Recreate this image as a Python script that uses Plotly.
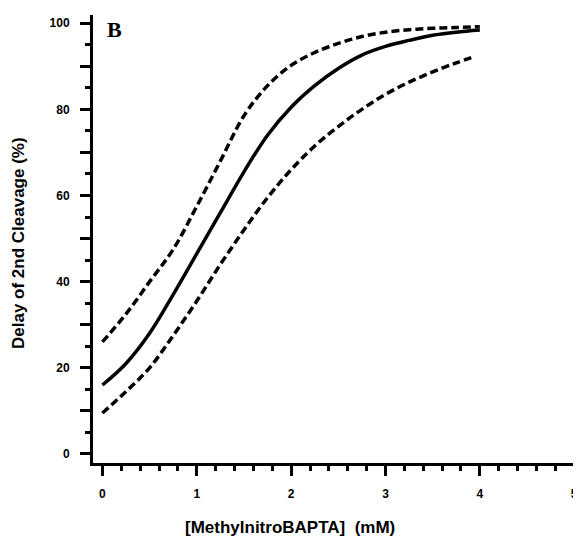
import plotly.graph_objects as go

# Concentration (mM) and delay (%)
conc = [0, 0.25, 0.5, 0.75, 1.0, 1.25, 1.5, 1.75, 2.0, 2.25, 2.5, 2.75, 3.0, 3.25, 3.5, 3.75, 4.0]
fit = [16, 21, 28, 37, 46.5, 56, 65.5, 74, 80.5, 85.5, 89.5, 92.6, 94.6, 96, 97.2, 97.9, 98.4]
upper = [26, 32.5, 40, 47.5, 57.5, 68, 78.5, 85.5, 90.2, 93.2, 95.3, 96.9, 97.9, 98.5, 98.8, 99, 99.2]
conc_low = [0, 0.25, 0.5, 0.75, 1.0, 1.25, 1.5, 1.75, 2.0, 2.25, 2.5, 2.75, 3.0, 3.25, 3.5, 3.75, 3.95]
lower = [9.5, 14.5, 20, 27.5, 35.5, 44, 52, 59.5, 66, 71.5, 76, 80, 83.5, 86.3, 88.7, 90.8, 92.3]

x_ticks = [0, 1, 2, 3, 4, 5]
x_ticktext = ["0", "1", "2", "3", "4", "5"]
y_ticks = [0, 10, 20, 30, 40, 50, 60, 70, 80, 90, 100]
y_ticktext = ["0", "", "20", "", "40", "", "60", "", "80", "", "100"]

fig = go.Figure()
dash_line = dict(color="black", width=3.5, dash="8px,4px", shape="spline", smoothing=1.0)
fig.add_trace(go.Scatter(x=conc, y=upper, mode="lines", line=dash_line))
fig.add_trace(go.Scatter(x=conc_low, y=lower, mode="lines", line=dash_line))
fig.add_trace(go.Scatter(x=conc, y=fit, mode="lines",
                         line=dict(color="black", width=3.5, shape="spline", smoothing=1.0)))

tickfont = dict(family="Liberation Sans", size=12, color="black", weight="bold")
titlefont = dict(family="Liberation Sans", size=17, color="black", weight="bold")
fig.update_layout(
    width=573, height=543,
    margin=dict(l=85, r=4, t=7, b=88, autoexpand=False),
    paper_bgcolor="white", plot_bgcolor="white",
    showlegend=False,
    font=dict(family="Liberation Sans", color="black"),
    xaxis=dict(
        range=[-0.1, 5.03], showgrid=False, zeroline=False, automargin=False,
        showline=True, linecolor="black", linewidth=3,
        tickmode="array", tickvals=x_ticks, ticktext=x_ticktext,
        ticks="outside", ticklen=10, tickwidth=3, tickcolor="black",
        minor=dict(dtick=0.2, tick0=0, ticks="outside", ticklen=5, tickwidth=3, tickcolor="black"),
        tickfont=tickfont, ticklabelstandoff=8,
    ),
    yaxis=dict(
        range=[-2.1, 101.9], showgrid=False, zeroline=False, automargin=False,
        showline=True, linecolor="black", linewidth=3,
        tickmode="array", tickvals=y_ticks, ticktext=y_ticktext,
        ticks="outside", ticklen=10, tickwidth=3, tickcolor="black",
        minor=dict(dtick=5, tick0=0, ticks="outside", ticklen=5, tickwidth=3, tickcolor="black"),
        tickfont=tickfont, ticklabelstandoff=8,
    ),
    annotations=[
        dict(text="<b>B</b>", x=0.025, y=1.0, xref="paper", yref="paper", xanchor="left", yanchor="top",
             showarrow=False, font=dict(family="Liberation Serif", size=22, color="black")),
        dict(text="[MethylnitroBAPTA]  (mM)", x=(290 - 93) / 484, y=-(527 - 463) / 448, xref="paper", yref="paper",
             xanchor="center", yanchor="middle", showarrow=False, font=titlefont),
        dict(text="Delay of 2nd Cleavage (%)", x=-(93 - 18) / 484, y=(463 - 243) / 448, xref="paper", yref="paper",
             xanchor="center", yanchor="middle", textangle=-90, showarrow=False, font=titlefont),
    ],
)
fig.write_html("out.html")
